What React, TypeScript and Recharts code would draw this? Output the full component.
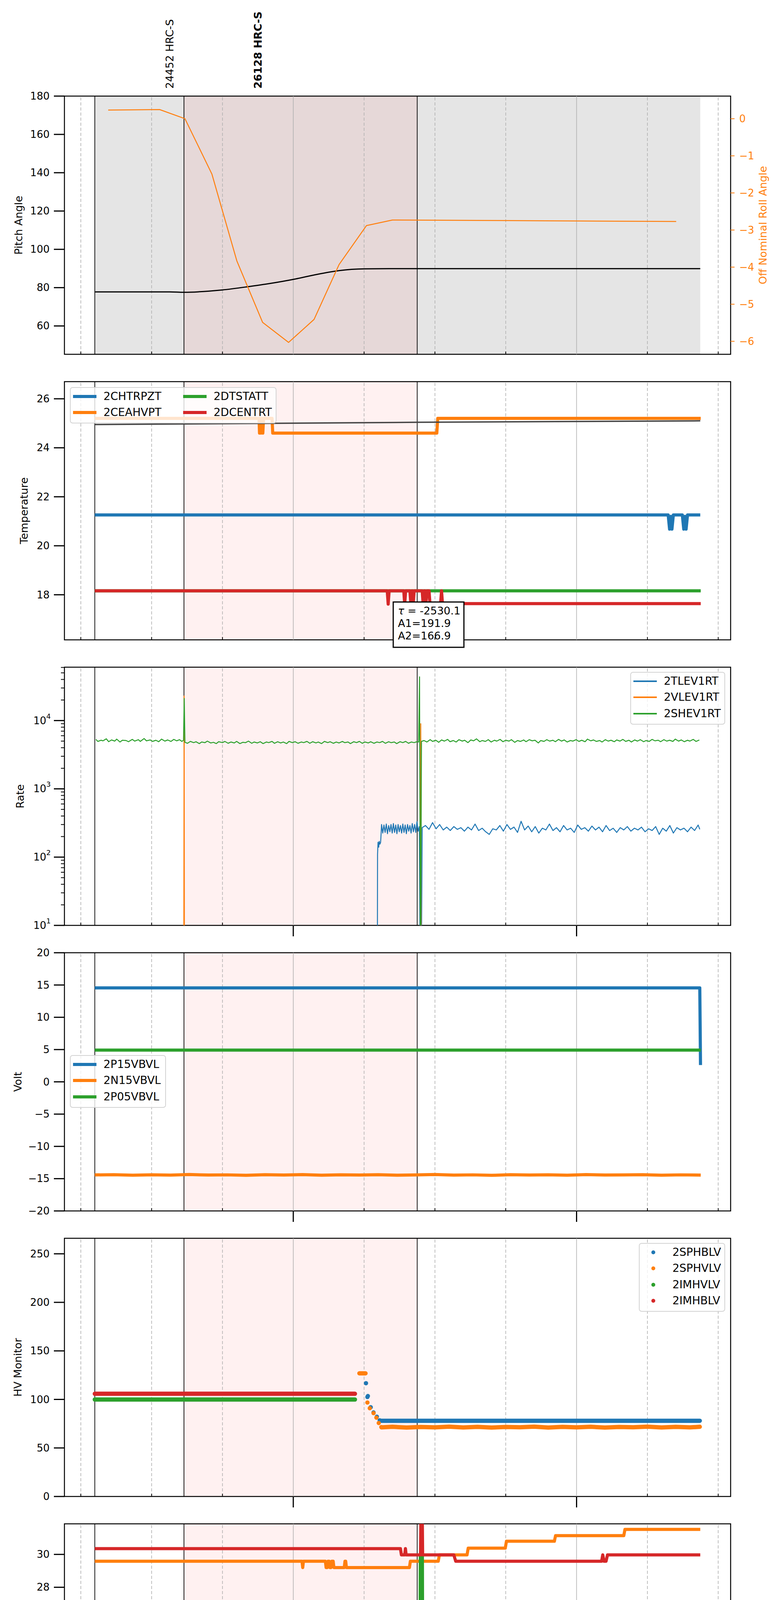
import React from "react";
import {
  ComposedChart,
  Line,
  XAxis,
  YAxis,
  ReferenceArea,
  ReferenceLine,
  ReferenceDot,
  Legend,
} from "recharts";

const FONT = "DejaVu Sans";
const BLUE = "#1f77b4";
const ORANGE = "#ff7f0e";
const GREEN = "#2ca02c";
const RED = "#d62728";

// time axis: minutes after 08:00, 2021-10-04 (277)
const X_DOMAIN = [11.53, 152.63];
const QUARTER_TICKS = [15, 30, 45, 60, 75, 90, 105, 120, 135, 150];
const EVENT_TIMES = [17.96, 36.85, 86.25];
const GRAY_SPAN = [17.96, 146.2];
const PINK_SPAN = [36.85, 86.25];
const OBSIDS = [
  { t: 33.8, label: "24452 HRC-S", bold: false },
  { t: 52.55, label: "26128 HRC-S", bold: true },
];

// ---- panel 1: pitch / roll
const PITCH = [
  [17.96, 77.8], [33.8, 77.8], [36.85, 77.55], [42.2, 78.2], [45.0, 78.8], [50.7, 80.6],
  [54.9, 82.1], [60.1, 84.35], [64.4, 86.6], [69.7, 88.9], [75.1, 89.8], [80.2, 89.9], [146.2, 89.9],
];
const ROLL = [
  [20.8, 0.234], [31.7, 0.247], [37.06, 0.0], [42.76, -1.49], [48.04, -3.83], [53.5, -5.49],
  [59.0, -6.03], [64.4, -5.41], [69.7, -3.93], [75.5, -2.88], [81.0, -2.73], [141.1, -2.77],
];

// ---- panel 2: temperature
const CHTRPZT = [
  [17.96, 21.26], [139.4, 21.26], [139.7, 20.68], [139.95, 21.2], [140.2, 20.68], [140.5, 21.26],
  [142.4, 21.26], [142.7, 20.68], [142.95, 21.2], [143.2, 20.68], [143.5, 21.26], [146.2, 21.26],
];
const CEAHVPT = [
  [17.96, 25.2], [52.75, 25.2], [52.85, 24.6], [53.0, 25.2], [53.15, 24.6], [53.35, 25.2],
  [53.55, 24.6], [53.7, 25.2], [55.5, 25.2], [55.65, 24.6], [90.4, 24.6], [90.6, 25.2], [146.3, 25.2],
];
const CEA_MODEL = [[17.96, 24.95], [86.3, 25.04], [146.2, 25.1]];
const DTSTATT = [[17.96, 18.16], [146.3, 18.16]];
const DCENTRT = [
  [17.96, 18.16], [79.9, 18.16], [80.1, 17.62], [80.3, 18.16], [83.4, 18.16], [83.6, 17.62],
  [83.8, 18.16], [84.7, 18.16], [84.9, 17.62], [85.1, 18.16], [85.25, 18.16], [85.4, 17.62],
  [85.6, 18.16], [87.3, 18.16], [87.5, 17.62], [87.7, 18.16], [87.9, 18.16], [88.1, 17.62],
  [88.3, 18.16], [88.75, 18.16], [88.95, 17.64], [91.2, 17.64], [91.4, 18.16], [91.6, 17.64],
  [146.3, 17.64],
];
const FIT_TEXT = { t: 81.17, v: 17.705, tau: "-2530.1", a1: "191.9", a2: "166.9" };

// ---- panel 3: rates (zero counts sit at 1, below the log axis)
const TLEV1RT = [
  [17.96, 1], [77.8, 1], [77.85, 110], [77.95, 165], [78.1, 140], [78.2, 170], [78.35, 155],
  [78.5, 165], [78.6, 220], [78.7, 300], [78.95, 225], [79.2, 295], [79.45, 230], [79.7, 305],
  [79.95, 220], [80.2, 290], [80.45, 235], [80.7, 300], [80.95, 225], [81.2, 310], [81.45, 230],
  [81.7, 295], [81.95, 220], [82.2, 300], [82.45, 235], [82.7, 290], [82.95, 225], [83.2, 305],
  [83.45, 230], [83.7, 295], [83.95, 220], [84.2, 300], [84.45, 240], [84.7, 290], [84.95, 225],
  [85.2, 310], [85.45, 235], [85.7, 300], [85.95, 230], [86.2, 330], [86.45, 240], [86.7, 280],
  [86.9, 1], [87.1, 1], [87.3, 270], [88.0, 290], [88.75, 255], [89.5, 320], [90.25, 260],
  [91.0, 300], [91.75, 250], [92.5, 275], [93.25, 245], [94.0, 280], [94.75, 255], [95.5, 270],
  [96.25, 240], [97.0, 275], [97.75, 250], [98.5, 305], [99.25, 245], [100.0, 265], [100.75, 235],
  [101.5, 215], [102.25, 260], [103.0, 250], [103.75, 290], [104.5, 240], [105.25, 300],
  [106.0, 255], [106.75, 275], [107.5, 230], [108.25, 335], [109.0, 250], [109.75, 285],
  [110.5, 235], [111.25, 280], [112.0, 225], [112.75, 265], [113.5, 250], [114.25, 305],
  [115.0, 245], [115.75, 270], [116.5, 235], [117.25, 290], [118.0, 250], [118.75, 265],
  [119.5, 230], [120.25, 295], [121.0, 255], [121.75, 270], [122.5, 240], [123.25, 285],
  [124.0, 250], [124.75, 275], [125.5, 235], [126.25, 290], [127.0, 245], [127.75, 265],
  [128.5, 230], [129.25, 270], [130.0, 250], [130.75, 280], [131.5, 240], [132.25, 265],
  [133.0, 250], [133.75, 275], [134.5, 235], [135.25, 260], [136.0, 245], [136.75, 280],
  [137.5, 215], [138.25, 265], [139.0, 240], [139.75, 290], [140.5, 225], [141.25, 270],
  [142.0, 250], [142.75, 265], [143.5, 235], [144.25, 275], [145.0, 245], [145.75, 295],
  [146.1, 255],
];
const VLEV1RT = [
  [17.96, 1], [36.8, 1], [36.88, 22900], [36.95, 1], [86.9, 1], [87.0, 9000], [87.1, 1], [146.2, 1],
];
const SHEV1RT = [
  [18.2, 5300], [18.6, 4950], [19.3, 5150], [19.7, 5050], [20.4, 5400], [20.9, 4900], [21.5, 5200],
  [22.2, 5000], [22.6, 5350], [23.3, 4850], [23.8, 5150], [24.6, 5100], [25.1, 4900], [25.9, 5300],
  [26.4, 5000], [27.2, 5250], [27.6, 4950], [28.4, 5450], [28.9, 5050], [29.7, 5200], [30.2, 4950],
  [30.9, 5150], [31.5, 4900], [32.1, 5350], [32.8, 5000], [33.4, 5200], [34.1, 4950], [34.7, 5300],
  [35.3, 5050], [35.9, 5250], [36.4, 4950], [36.75, 5150], [36.9, 21000], [37.05, 4800],
  [37.6, 4650], [38.2, 4950], [38.9, 4750], [39.4, 4900], [40.1, 4600], [40.6, 4850], [41.3, 4750],
  [41.8, 5000], [42.5, 4700], [43.1, 4800], [43.7, 4600], [44.2, 4900], [45.0, 4750], [45.5, 4950],
  [46.2, 4650], [46.8, 4850], [47.5, 4700], [48.0, 4950], [48.7, 4600], [49.3, 4800], [49.9, 4750],
  [50.5, 5000], [51.2, 4650], [51.7, 4850], [52.4, 4700], [53.0, 4900], [53.6, 4600], [54.3, 4850],
  [54.8, 4750], [55.5, 4950], [56.0, 4650], [56.7, 4900], [57.3, 4700], [57.9, 4850], [58.6, 4600],
  [59.1, 4950], [59.8, 4750], [60.4, 4900], [61.0, 4650], [61.7, 4850], [62.2, 4750], [62.9, 4950],
  [63.5, 4650], [64.1, 4900], [64.8, 4700], [65.3, 4850], [66.0, 4600], [66.6, 4950], [67.3, 4750],
  [67.8, 4900], [68.5, 4650], [69.1, 4850], [69.7, 4700], [70.4, 4950], [70.9, 4750], [71.6, 4850],
  [72.1, 4600], [72.8, 4900], [73.4, 4750], [74.0, 4950], [74.6, 4650], [75.2, 4850], [75.9, 4700],
  [76.4, 4900], [77.1, 4650], [77.7, 4850], [78.3, 4750], [78.9, 4950], [79.5, 4650], [80.2, 4900],
  [80.7, 4750], [81.4, 4850], [81.9, 4600], [82.6, 4900], [83.2, 4750], [83.8, 4950], [84.4, 4650],
  [85.0, 4850], [85.6, 4750], [86.2, 4900], [86.55, 4850], [86.74, 43700], [86.95, 1], [87.15, 4950],
  [87.7, 5100], [88.3, 4850], [89.0, 5250], [89.5, 4950], [90.2, 5150], [90.8, 4800], [91.4, 5200],
  [92.0, 5000], [92.7, 5300], [93.2, 4900], [93.9, 5100], [94.5, 4850], [95.1, 5250], [95.8, 5000],
  [96.3, 5150], [97.0, 4750], [97.6, 5200], [98.2, 5050], [98.8, 5400], [99.5, 4900], [100.0, 5100],
  [100.7, 4950], [101.3, 5250], [101.9, 4850], [102.6, 5150], [103.1, 5000], [103.8, 5300],
  [104.4, 4900], [105.0, 5150], [105.7, 5000], [106.2, 5250], [106.9, 4800], [107.5, 5100],
  [108.1, 4950], [108.8, 5200], [109.3, 4900], [110.0, 5250], [110.6, 5050], [111.2, 5150],
  [111.9, 4700], [112.4, 5100], [113.1, 4950], [113.7, 5250], [114.3, 5000], [115.0, 5150],
  [115.5, 4900], [116.2, 5300], [116.8, 5000], [117.4, 5200], [118.0, 4850], [118.7, 5100],
  [119.2, 5000], [119.9, 5250], [120.5, 4950], [121.1, 5150], [121.8, 4900], [122.3, 5350],
  [123.0, 5050], [123.6, 5200], [124.2, 4950], [124.9, 5100], [125.4, 4850], [126.1, 5250],
  [126.7, 5000], [127.3, 5150], [128.0, 4900], [128.5, 5200], [129.2, 5000], [129.8, 5300],
  [130.4, 4950], [131.1, 5150], [131.6, 4850], [132.3, 5200], [132.9, 5000], [133.5, 5250],
  [134.2, 4900], [134.7, 5100], [135.4, 4950], [136.0, 5300], [136.6, 5050], [137.3, 5150],
  [137.8, 4900], [138.5, 5250], [139.1, 5000], [139.7, 5150], [140.4, 4950], [140.9, 5350],
  [141.6, 5000], [142.2, 5200], [142.8, 4900], [143.5, 5150], [144.0, 5000], [144.7, 5300],
  [145.3, 4950], [146.0, 5200],
];
const RATE_MAJOR = [10, 100, 1000, 10000];
const RATE_TICKS = [
  10, 20, 30, 40, 50, 60, 70, 80, 90, 100, 200, 300, 400, 500, 600, 700, 800, 900, 1000, 2000,
  3000, 4000, 5000, 6000, 7000, 8000, 9000, 10000, 20000, 30000, 40000, 50000, 60000,
];

// ---- panel 4: volts
const P15VBVL = [[17.96, 14.55], [146.1, 14.55], [146.25, 2.6]];
const N15VBVL = [
  [17.96, -14.42], [22, -14.38], [26, -14.47], [30, -14.4], [34, -14.45], [38, -14.36], [42, -14.44],
  [46, -14.41], [50, -14.48], [54, -14.39], [58, -14.43], [62, -14.37], [66, -14.46], [70, -14.4],
  [74, -14.44], [78, -14.38], [82, -14.47], [86, -14.42], [90, -14.36], [94, -14.45], [98, -14.41],
  [102, -14.48], [106, -14.39], [110, -14.43], [114, -14.4], [118, -14.46], [122, -14.37],
  [126, -14.44], [130, -14.42], [134, -14.38], [138, -14.47], [142, -14.41], [146.3, -14.45],
];
const P05VBVL = [[17.96, 4.92], [146.3, 4.92]];

// ---- panel 5: HV monitor (runs of samples + isolated samples)
const SPHBLV_RUN = [[78.5, 78], [146.1, 78]];
const SPHBLV_PTS = [[75.4, 116.7], [75.7, 102.5], [75.8, 103.5], [76.4, 92], [77.0, 86.6], [77.7, 82.2], [78.3, 78.5]];
const SPHVLV_BLOB = [[74.0, 126.9], [75.3, 126.9]];
const SPHVLV_PTS = [[75.7, 96.8], [76.2, 90.9], [77.0, 85.9], [77.6, 81.2], [78.1, 75.7], [78.65, 71.5]];
const SPHVLV_RUN = [
  [78.7, 71.2], [81, 71.8], [84, 71.0], [87, 71.6], [90, 71.2], [93, 71.9], [96, 71.1], [99, 71.7],
  [102, 71.0], [105, 71.6], [108, 71.3], [111, 71.9], [114, 71.0], [117, 71.7], [120, 71.2],
  [123, 71.8], [126, 71.0], [129, 71.6], [132, 71.3], [135, 71.9], [138, 71.1], [141, 71.7],
  [144, 71.2], [146.1, 71.8],
];
const IMHVLV_RUN = [[17.96, 99.9], [73.06, 99.9]];
const IMHBLV_RUN = [[17.96, 105.8], [73.06, 105.8]];

// ---- panel 6: detector temps
const SPINATM = [
  [17.96, 17.62], [37.3, 17.62], [37.45, 16.98], [37.6, 17.62], [40.5, 17.62], [40.65, 16.98],
  [40.8, 17.62], [42.1, 17.62], [42.25, 16.98], [42.4, 17.62], [44.5, 17.62], [44.65, 16.98],
  [44.8, 17.62], [45.8, 17.62], [45.95, 16.98], [46.1, 17.62], [47.15, 17.62], [47.3, 16.98],
  [47.45, 17.62], [49.15, 17.62], [49.3, 16.98], [49.45, 17.62], [53.4, 17.62], [53.55, 16.98],
  [53.7, 17.62], [56.35, 17.62], [56.5, 16.98], [56.65, 17.62], [58.45, 17.62], [58.6, 16.98],
  [58.75, 17.62], [60.55, 17.62], [60.7, 16.98], [60.85, 17.62], [61.6, 17.62], [61.75, 16.98],
  [61.9, 17.62], [62.2, 17.62], [62.35, 16.98], [62.5, 17.62], [63.4, 17.62], [63.55, 16.98],
  [63.7, 17.62], [64.25, 17.62], [64.4, 16.98], [64.55, 17.62], [66.2, 17.62], [66.35, 16.98],
  [66.6, 16.98], [66.75, 17.62], [67.4, 17.62], [67.55, 16.98], [67.7, 17.62], [69.8, 17.62],
  [69.95, 16.98], [70.1, 17.62], [70.55, 17.62], [70.7, 16.98], [70.85, 17.62], [71.65, 17.62],
  [71.8, 16.98], [71.95, 17.62], [72.7, 17.62], [72.85, 16.98], [73.0, 17.62], [73.45, 17.62],
  [73.6, 16.98], [82.2, 16.98], [82.35, 17.62], [82.6, 17.62], [82.75, 16.98], [83.4, 16.98],
  [83.55, 17.62], [84.0, 17.62], [84.15, 16.98], [84.6, 16.98], [84.75, 17.62], [85.3, 17.62],
  [85.45, 16.98], [86.6, 16.98], [86.85, 17.62], [87.0, 18.3], [87.2, 18.3], [87.4, 16.98],
  [88.3, 16.98], [88.9, 17.62], [146.2, 17.62],
];
const SPHVATM = [
  [17.96, 29.585], [61.85, 29.585], [62.0, 29.2], [62.15, 29.585], [66.8, 29.585], [66.95, 29.2],
  [67.2, 29.2], [67.35, 29.585], [67.6, 29.585], [67.75, 29.2], [68.0, 29.2], [68.15, 29.585],
  [68.45, 29.585], [68.6, 29.2], [70.8, 29.2], [70.95, 29.585], [71.1, 29.585], [71.25, 29.2],
  [84.6, 29.2], [84.8, 29.585], [90.7, 29.585], [90.95, 29.97], [96.8, 29.97], [97.05, 30.38],
  [104.9, 30.38], [105.15, 30.8], [115.3, 30.8], [115.55, 31.14], [130.0, 31.14], [130.25, 31.52],
  [146.2, 31.52],
];
const IMINATM = [[17.96, 18.27], [86.8, 18.27], [86.9, 29.9], [87.35, 29.9], [87.45, 18.27], [146.2, 18.27]];
const IMHVATM = [
  [17.96, 30.35], [82.7, 30.35], [82.9, 29.97], [83.6, 29.97], [83.75, 30.35], [83.9, 29.97],
  [86.95, 29.97], [87.05, 33], [87.3, 33], [87.4, 29.97], [94.0, 29.97], [94.4, 29.585],
  [125.3, 29.585], [125.55, 29.97], [125.8, 29.585], [126.25, 29.585], [126.55, 29.97], [146.2, 29.97],
];

// ---- panel 7: FEA temps
const FHTRMZT = [[17.96, 20.26], [18.3, 19.675], [63.1, 19.675], [63.4, 20.2], [146.4, 20.2]];
const FRADPYT = [
  [17.96, 14.77], [50.4, 14.77], [50.6, 15.24], [64.7, 15.24], [64.9, 15.71], [76.9, 15.71],
  [77.2, 15.24], [146.4, 15.24],
];
const FEPRATM = [
  [17.96, 21.69], [87.73, 21.69], [88.3, 22.4], [89.2, 22.4], [89.9, 21.65], [90.4, 22.4],
  [90.85, 21.65], [91.5, 22.4], [146.2, 22.4],
];
const FE00ATM = [
  [17.96, 20.48], [77.95, 20.48], [78.1, 19.25], [78.25, 20.48], [80.85, 20.48], [81.0, 21.44],
  [81.15, 20.48], [86.9, 20.48], [87.0, 24], [87.3, 24], [87.4, 20.48], [146.2, 20.48],
];

const pts = (a: number[][]) => a.map(([t, v]) => ({ t, v }));
const minus = (v: number) => (v < 0 ? `\u2212${Math.abs(v)}` : `${v}`);

const PLOT_H = 661;

function XTick(props: any) {
  const { x, y, payload, hours, labels } = props;
  const v = payload.value;
  if (v % 60 === 0) {
    return (
      <g>
        {hours && <line x1={x} x2={x} y1={y} y2={y + 28} stroke="#000" strokeWidth={3} />}
        {labels && (
          <text x={x} y={y + 50} textAnchor="middle" dominantBaseline="central" fontSize={26} fontFamily={FONT}>
            {`${String(8 + v / 60).padStart(2, "0")}h`}
          </text>
        )}
      </g>
    );
  }
  return (
    <g>
      <line x1={x} x2={x} y1={y} y2={y - 7} stroke="#000" strokeWidth={2} />
      {labels && (
        <text x={x} y={y + 16} textAnchor="middle" dominantBaseline="central" fontSize={17} fontFamily={FONT}>
          {String(v % 60)}
        </text>
      )}
    </g>
  );
}

const xTick = (hours: boolean, labels: boolean) => (p: any) => <XTick {...p} hours={hours} labels={labels} />;

const leftTick = (fmt: (v: number) => any, isMinor?: (v: number) => boolean, dx = 38) => (p: any) => {
  const { x, y, payload } = p;
  const v = payload.value;
  if (isMinor && isMinor(v)) {
    return <line x1={x - 9} x2={x} y1={y} y2={y} stroke="#000" strokeWidth={2} />;
  }
  return (
    <g>
      <line x1={x - 27} x2={x} y1={y} y2={y} stroke="#000" strokeWidth={3} />
      <text x={x - dx} y={y} textAnchor="end" dominantBaseline="central" fontSize={26} fontFamily={FONT} fill="#000">
        {fmt(v)}
      </text>
    </g>
  );
};

const rightTick = (p: any) => {
  const { x, y, payload } = p;
  return (
    <g>
      <line x1={x} x2={x + 10} y1={y} y2={y} stroke={ORANGE} strokeWidth={2} />
      <text x={x + 22} y={y} textAnchor="start" dominantBaseline="central" fontSize={26} fontFamily={FONT} fill={ORANGE}>
        {minus(payload.value)}
      </text>
    </g>
  );
};

const logFmt = (v: number) => (
  <>
    <tspan>10</tspan>
    <tspan dy={-12} fontSize={18}>{String(Math.round(Math.log10(v)))}</tspan>
  </>
);

const axisLabel = (text: string, cx: number, cy: number, color = "#000") => ({
  value: text,
  content: () => (
    <text
      x={cx}
      y={cy}
      transform={`rotate(-90, ${cx}, ${cy})`}
      textAnchor="middle"
      dominantBaseline="central"
      fontSize={27}
      fontFamily={FONT}
      fill={color}
    >
      {text}
    </text>
  ),
});

function background(yDomain: number[], gray: boolean) {
  const items: any[] = [];
  if (gray) {
    items.push(
      <ReferenceArea key="gray" x1={GRAY_SPAN[0]} x2={GRAY_SPAN[1]} y1={yDomain[0]} y2={yDomain[1]} fill="#e5e5e5" fillOpacity={1} stroke="none" />
    );
  }
  items.push(
    <ReferenceArea key="pink" x1={PINK_SPAN[0]} x2={PINK_SPAN[1]} y1={yDomain[0]} y2={yDomain[1]} fill="#ff0000" fillOpacity={0.055} stroke="none" />
  );
  QUARTER_TICKS.forEach((t) =>
    items.push(
      <ReferenceLine key={`g${t}`} x={t} stroke="#b0b0b0" strokeWidth={1.6} strokeDasharray={t % 60 === 0 ? undefined : "8 5"} />
    )
  );
  EVENT_TIMES.forEach((t) => items.push(<ReferenceLine key={`e${t}`} x={t} stroke="#000" strokeWidth={1.8} />));
  return items;
}

const frame = (yDomain: number[]) => (
  <ReferenceArea key="frame" x1={X_DOMAIN[0]} x2={X_DOMAIN[1]} y1={yDomain[0]} y2={yDomain[1]} fill="none" fillOpacity={0} stroke="#000" strokeWidth={2.5} />
);

const series = (key: string, data: number[][], color: string, width: number, extra: any = {}) => (
  <Line
    key={key}
    data={pts(data)}
    dataKey="v"
    type="linear"
    stroke={color}
    strokeWidth={width}
    strokeLinejoin="round"
    dot={false}
    activeDot={false}
    legendType="none"
    isAnimationActive={false}
    {...extra}
  />
);

const dots = (key: string, data: number[][], color: string, r: number) => (
  <Line
    key={key}
    data={pts(data)}
    dataKey="v"
    stroke="none"
    strokeWidth={0}
    dot={{ r, fill: color, stroke: "none", strokeWidth: 0 }}
    activeDot={false}
    legendType="none"
    isAnimationActive={false}
  />
);

function LegendBox({ entries, rows, colWidth = 0, marker = "line", thick = 8, width, height }: any) {
  return (
    <div
      style={{
        position: "relative",
        width,
        height,
        boxSizing: "border-box",
        border: "2px solid #d3d3d3",
        borderRadius: 7,
        background: "rgba(255,255,255,0.8)",
        fontFamily: FONT,
        fontSize: 28,
        color: "#000",
      }}
    >
      {entries.map((e: any, i: number) => {
        const col = Math.floor(i / rows);
        const row = i % rows;
        const cy = 21.5 + row * 41.5;
        const left = col * colWidth;
        return (
          <React.Fragment key={e.name}>
            {marker === "line" ? (
              <div style={{ position: "absolute", left: left + 6, top: cy - thick / 2, width: 60, height: thick, background: e.color }} />
            ) : (
              <div style={{ position: "absolute", left: left + 30, top: cy - 5, width: 10, height: 10, borderRadius: "50%", background: e.color }} />
            )}
            <div style={{ position: "absolute", left: left + 84, top: cy - 17, lineHeight: "34px", whiteSpace: "nowrap" }}>{e.name}</div>
          </React.Fragment>
        );
      })}
    </div>
  );
}

const legend = (box: any, left: number, top: number) => (
  <Legend
    layout="vertical"
    align="center"
    verticalAlign="middle"
    wrapperStyle={{ left, top, width: box.width, height: box.height }}
    content={() => <LegendBox {...box} />}
  />
);

const xAxis = (height: number, hours: boolean, labels: boolean, extra: any = {}) => (
  <XAxis
    type="number"
    dataKey="t"
    domain={X_DOMAIN}
    allowDataOverflow
    ticks={QUARTER_TICKS}
    interval={0}
    height={height}
    axisLine={false}
    tickLine={false}
    tickSize={0}
    tickMargin={0}
    tick={xTick(hours, labels)}
    {...extra}
  />
);

const yAxis = (domain: number[], ticks: number[], tick: any, label: any, extra: any = {}) => (
  <YAxis
    type="number"
    width={157}
    domain={domain}
    allowDataOverflow
    ticks={ticks}
    interval={0}
    axisLine={false}
    tickLine={false}
    tickSize={0}
    tickMargin={0}
    tick={tick}
    label={label}
    {...extra}
  />
);

const MID = 35 + PLOT_H / 2;

function Slot({ height, children }: any) {
  return <div style={{ height, position: "relative" }}>{children}</div>;
}

function PitchPanel() {
  const dom = [45.2, 180];
  const roll = [-6.35, 0.61];
  return (
    <ComposedChart width={2000} height={934} margin={{ top: 238, right: 0, bottom: 0, left: 0 }}>
      {xAxis(35, false, false)}
      {yAxis(dom, [60, 80, 100, 120, 140, 160, 180], leftTick(minus), axisLabel("Pitch Angle", 39.5, 238 + PLOT_H / 2))}
      <YAxis
        yAxisId="r"
        orientation="right"
        type="number"
        width={137}
        domain={roll}
        allowDataOverflow
        ticks={[-6, -5, -4, -3, -2, -1, 0]}
        interval={0}
        axisLine={false}
        tickLine={false}
        tickSize={0}
        tickMargin={0}
        tick={rightTick}
        label={axisLabel("Off Nominal Roll Angle", 1945, 238 + PLOT_H / 2, ORANGE)}
      />
      {background(dom, true)}
      {OBSIDS.map((o) => (
        <ReferenceLine
          key={o.label}
          x={o.t}
          stroke="none"
          label={{
            value: o.label,
            content: (p: any) => {
              const vb = p.viewBox || {};
              const x = vb.x;
              const y = vb.y - 19;
              return (
                <text
                  x={x}
                  y={y}
                  transform={`rotate(-90, ${x}, ${y})`}
                  textAnchor="start"
                  dominantBaseline="central"
                  fontSize={27}
                  fontFamily={FONT}
                  fontWeight={o.bold ? "bold" : "normal"}
                >
                  {o.label}
                </text>
              );
            },
          }}
        />
      ))}
      {series("pitch", PITCH, "#000", 3, { type: "monotone" })}
      {series("roll", ROLL, ORANGE, 2.5, { yAxisId: "r" })}
      {frame(dom)}
    </ComposedChart>
  );
}

function TempPanel() {
  const dom = [16.16, 26.7];
  const entries = [
    { name: "2CHTRPZT", color: BLUE },
    { name: "2CEAHVPT", color: ORANGE },
    { name: "2DTSTATT", color: GREEN },
    { name: "2DCENTRT", color: RED },
  ];
  return (
    <ComposedChart width={2000} height={731} margin={{ top: 35, right: 137, bottom: 0, left: 0 }}>
      {xAxis(35, false, false)}
      {yAxis(dom, [18, 20, 22, 24, 26], leftTick(minus), axisLabel("Temperature", 53.5, MID))}
      {background(dom, false)}
      {series("blue", CHTRPZT, BLUE, 8)}
      {series("orange", CEAHVPT, ORANGE, 8)}
      {series("model", CEA_MODEL, "#444444", 3.5)}
      {series("green", DTSTATT, GREEN, 8)}
      {series("red", DCENTRT, RED, 8)}
      {frame(dom)}
      <ReferenceDot
        x={FIT_TEXT.t}
        y={FIT_TEXT.v}
        r={0}
        ifOverflow="visible"
        shape={(p: any) => (
          <g fontFamily={FONT} fontSize={27}>
            <rect x={p.cx} y={p.cy} width={181} height={116} fill="#fff" stroke="#000" strokeWidth={3} />
            <text x={p.cx + 12} y={p.cy + 32}>
              <tspan fontStyle="italic">τ</tspan>
              <tspan>{` = ${FIT_TEXT.tau}`}</tspan>
            </text>
            <text x={p.cx + 12} y={p.cy + 64}>{`A1=${FIT_TEXT.a1}`}</text>
            <text x={p.cx + 12} y={p.cy + 96}>{`A2=${FIT_TEXT.a2}`}</text>
          </g>
        )}
      />
      {legend({ entries, rows: 2, colWidth: 282, thick: 8, width: 529, height: 93 }, 171, 49)}
    </ComposedChart>
  );
}

function RatePanel() {
  const dom = [10, 60500];
  const entries = [
    { name: "2TLEV1RT", color: BLUE },
    { name: "2VLEV1RT", color: ORANGE },
    { name: "2SHEV1RT", color: GREEN },
  ];
  return (
    <ComposedChart width={2000} height={731} margin={{ top: 35, right: 137, bottom: 0, left: 0 }}>
      {xAxis(35, true, false)}
      {yAxis(dom, RATE_TICKS, leftTick(logFmt, (v) => !RATE_MAJOR.includes(v), 35), axisLabel("Rate", 43, MID), { scale: "log" })}
      {background(dom, false)}
      {series("blue", TLEV1RT, BLUE, 2.5)}
      {series("orange", VLEV1RT, ORANGE, 2.5)}
      {series("green", SHEV1RT, GREEN, 2.5)}
      {frame(dom)}
      {legend({ entries, rows: 3, thick: 4, width: 243, height: 135 }, 1606, 47)}
    </ComposedChart>
  );
}

function VoltPanel() {
  const dom = [-20, 20];
  const entries = [
    { name: "2P15VBVL", color: BLUE },
    { name: "2N15VBVL", color: ORANGE },
    { name: "2P05VBVL", color: GREEN },
  ];
  return (
    <ComposedChart width={2000} height={731} margin={{ top: 35, right: 137, bottom: 0, left: 0 }}>
      {xAxis(35, true, false)}
      {yAxis(dom, [-20, -15, -10, -5, 0, 5, 10, 15, 20], leftTick(minus), axisLabel("Volt", 37, MID))}
      {background(dom, false)}
      {series("blue", P15VBVL, BLUE, 8)}
      {series("orange", N15VBVL, ORANGE, 8)}
      {series("green", P05VBVL, GREEN, 8)}
      {frame(dom)}
      {legend({ entries, rows: 3, thick: 8, width: 246, height: 135 }, 171, 297)}
    </ComposedChart>
  );
}

function HvPanel() {
  const dom = [0, 266];
  const entries = [
    { name: "2SPHBLV", color: BLUE },
    { name: "2SPHVLV", color: ORANGE },
    { name: "2IMHVLV", color: GREEN },
    { name: "2IMHBLV", color: RED },
  ];
  const run = { strokeLinecap: "round" };
  return (
    <ComposedChart width={2000} height={731} margin={{ top: 35, right: 137, bottom: 0, left: 0 }}>
      {xAxis(35, true, false)}
      {yAxis(dom, [0, 50, 100, 150, 200, 250], leftTick(minus), axisLabel("HV Monitor", 37, MID))}
      {background(dom, false)}
      {series("bRun", SPHBLV_RUN, BLUE, 11, run)}
      {dots("bPts", SPHBLV_PTS, BLUE, 5.5)}
      {series("oBlob", SPHVLV_BLOB, ORANGE, 11, run)}
      {dots("oPts", SPHVLV_PTS, ORANGE, 5.5)}
      {series("oRun", SPHVLV_RUN, ORANGE, 11, run)}
      {series("gRun", IMHVLV_RUN, GREEN, 11, run)}
      {series("rRun", IMHBLV_RUN, RED, 11, run)}
      {frame(dom)}
      {legend({ entries, rows: 4, marker: "dot", width: 221, height: 176 }, 1628, 47)}
    </ComposedChart>
  );
}

function DetPanel() {
  const dom = [16.15, 31.86];
  const entries = [
    { name: "2SPINATM", color: BLUE },
    { name: "2SPHVATM", color: ORANGE },
    { name: "2IMINATM", color: GREEN },
    { name: "2IMHVATM", color: RED },
  ];
  return (
    <ComposedChart width={2000} height={731} margin={{ top: 35, right: 137, bottom: 0, left: 0 }}>
      {xAxis(35, true, false)}
      {yAxis(dom, [18, 20, 22, 24, 26, 28, 30], leftTick(minus), axisLabel("Detector Temp", 53.5, MID))}
      {background(dom, false)}
      {series("blue", SPINATM, BLUE, 8)}
      {series("orange", SPHVATM, ORANGE, 8)}
      {series("green", IMINATM, GREEN, 8)}
      {series("red", IMHVATM, RED, 8)}
      {frame(dom)}
      {legend({ entries, rows: 4, thick: 8, width: 247, height: 176 }, 1602, 276)}
    </ComposedChart>
  );
}

function FeaPanel() {
  const dom = [13.27, 23.19];
  const entries = [
    { name: "2FHTRMZT", color: BLUE },
    { name: "2FRADPYT", color: ORANGE },
    { name: "2FEPRATM", color: GREEN },
    { name: "2FE00ATM", color: RED },
  ];
  return (
    <ComposedChart width={2000} height={795} margin={{ top: 35, right: 137, bottom: 0, left: 0 }}>
      {xAxis(99, true, true, {
        label: {
          value: "2021-10-04 (277)",
          content: () => (
            <text x={1010} y={35 + PLOT_H + 85} textAnchor="middle" dominantBaseline="central" fontSize={34} fontFamily={FONT}>
              2021-10-04 (277)
            </text>
          ),
        },
      })}
      {yAxis(dom, [14, 16, 18, 20, 22], leftTick(minus), axisLabel("FEA Temp", 53.5, MID))}
      {background(dom, false)}
      {series("blue", FHTRMZT, BLUE, 8)}
      {series("orange", FRADPYT, ORANGE, 8)}
      {series("green", FEPRATM, GREEN, 8)}
      {series("red", FE00ATM, RED, 8)}
      {frame(dom)}
      {legend({ entries, rows: 4, thick: 8, width: 249, height: 177 }, 1600, 275)}
    </ComposedChart>
  );
}

export default function App() {
  // sized so the page (with the 8px body margin) fits the 2000x5400 window without scrollbars
  return (
    <div style={{ width: 1984, height: 5392, marginBottom: -8, overflow: "hidden", fontFamily: FONT }}>
      <Slot height={934}><PitchPanel /></Slot>
      <Slot height={731}><TempPanel /></Slot>
      <Slot height={731}><RatePanel /></Slot>
      <Slot height={731}><VoltPanel /></Slot>
      <Slot height={731}><HvPanel /></Slot>
      <Slot height={731}><DetPanel /></Slot>
      <Slot height={795}><FeaPanel /></Slot>
    </div>
  );
}
